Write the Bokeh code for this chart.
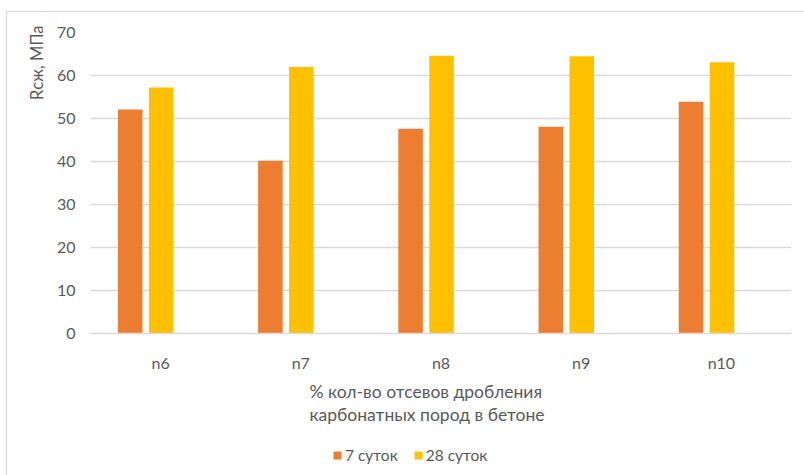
from bokeh.plotting import figure
from bokeh.layouts import column
from bokeh.models import FactorRange, Legend, LegendItem, Title, ColumnDataSource
from bokeh.transform import dodge
from bokeh.embed import file_html
from bokeh.resources import INLINE

# Compressive strength of concrete by mix (MPa)
categories = ["n6", "n7", "n8", "n9", "n10"]
days_7 = [52.1, 40.2, 47.6, 48.1, 53.9]
days_28 = [57.2, 62.0, 64.6, 64.5, 63.1]
series_labels = ["7 суток", "28 суток"]
y_ticks = [0, 10, 20, 30, 40, 50, 60, 70]

FONT = "Lato"
TEXT = "#595959"
GRID = "#D9D9D9"
ORANGE = "#ED7D31"
GOLD = "#FFC000"

source = ColumnDataSource(data=dict(cat=categories, d7=days_7, d28=days_28))

p = figure(
    x_range=FactorRange(factors=categories, range_padding=0),
    y_range=(0, 70),
    width=797, height=424,
    output_backend="svg", toolbar_location=None, tools="",
    min_border_left=83, min_border_right=13, min_border_top=20, min_border_bottom=103,
)
p.outline_line_color = None
p.border_fill_color = "white"

bar_kw = dict(source=source, width=0.175, line_color=None)
r7 = p.vbar(x=dodge("cat", -0.217, range=p.x_range), top="d7", fill_color=ORANGE, **bar_kw)
r28 = p.vbar(x=dodge("cat", 0.004, range=p.x_range), top="d28", fill_color=GOLD, **bar_kw)

# y axis
p.yaxis.ticker = y_ticks
p.yaxis.axis_line_color = None
p.yaxis.major_tick_line_color = None
p.yaxis.minor_tick_line_color = None
p.yaxis.major_tick_out = 0
p.yaxis.major_label_standoff = 15
p.yaxis.major_label_text_font = FONT
p.yaxis.major_label_text_font_size = "16px"
p.yaxis.major_label_text_color = TEXT

# x axis
p.xaxis.axis_line_color = GRID
p.xaxis.axis_line_width = 1.5
p.xaxis.major_tick_line_color = None
p.xaxis.minor_tick_line_color = None
p.xaxis.major_tick_out = 0
p.xaxis.major_label_standoff = 19
p.xaxis.major_label_text_font = FONT
p.xaxis.major_label_text_font_size = "16px"
p.xaxis.major_label_text_color = TEXT

p.xgrid.grid_line_color = None
p.ygrid.grid_line_color = GRID
p.ygrid.grid_line_width = 1.5

# x axis title: two lines, set a little left of the plot centre
xtitle = Title(text="% кол-во отсевов дробления\nкарбонатных пород в бетоне",
               align="left", offset=214, vertical_align="top", standoff=2, padding=5,
               text_font=FONT, text_font_size="17.5px", text_font_style="normal",
               text_color=TEXT, text_line_height=1.1)
p.add_layout(xtitle, "below")

# y axis title, placed toward the top of the left side
ytitle = Title(text="Rсж, МПа", align="right", offset=-7, standoff=14,
               text_font=FONT, text_font_size="16.5px", text_font_style="normal",
               text_color=TEXT)
p.add_layout(ytitle, "left")

# legend strip under the chart
lf = figure(
    x_range=p.x_range, y_range=p.y_range,
    width=797, height=39, output_backend="svg", toolbar_location=None, tools="",
    x_axis_type=None, y_axis_type=None, min_border=0,
)
lf.outline_line_color = None
lf.grid.visible = False
lr7 = lf.vbar(x=dodge("cat", -0.217, range=lf.x_range), top="d7", fill_color=ORANGE,
              visible=False, **bar_kw)
lr28 = lf.vbar(x=dodge("cat", 0.004, range=lf.x_range), top="d28", fill_color=GOLD,
               visible=False, **bar_kw)

legend = Legend(
    items=[LegendItem(label=series_labels[0], renderers=[lr7]),
           LegendItem(label=series_labels[1], renderers=[lr28])],
    orientation="horizontal", location=(242, 11),
    glyph_width=10, glyph_height=10, label_standoff=3, spacing=15,
    padding=0, margin=0, border_line_color=None, background_fill_alpha=0,
    label_text_font=FONT, label_text_font_size="15.5px", label_text_color=TEXT,
)
lf.add_layout(legend, "center")

page = column(p, lf, spacing=0, margin=(11, 0, 0, 6),
              styles={"border-top": f"1px solid {GRID}", "border-left": f"1px solid {GRID}"})

open("out.html", "w").write(file_html(page, INLINE))
